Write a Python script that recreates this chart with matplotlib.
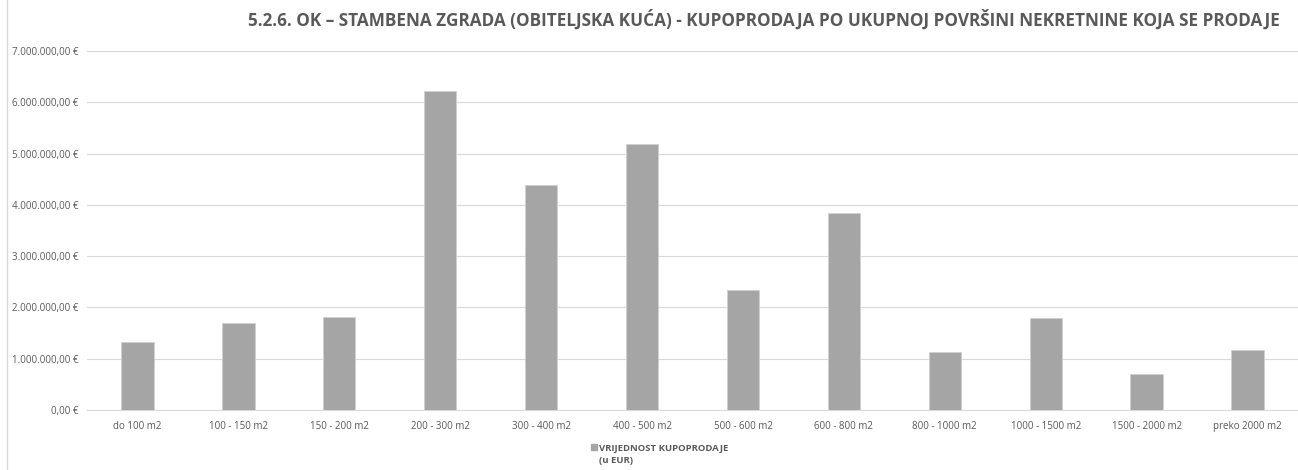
import matplotlib
matplotlib.use("Agg")
import matplotlib.pyplot as plt
from matplotlib.ticker import FuncFormatter
from matplotlib.patches import Rectangle

plt.rcParams['font.family'] = ['Open Sans', 'DejaVu Sans']

categories = ["do 100 m2", "100 - 150 m2", "150 - 200 m2", "200 - 300 m2", "300 - 400 m2",
              "400 - 500 m2", "500 - 600 m2", "600 - 800 m2", "800 - 1000 m2", "1000 - 1500 m2",
              "1500 - 2000 m2", "preko 2000 m2"]
values = [1330000, 1700000, 1810000, 6220000, 4390000, 5190000,
          2340000, 3840000, 1130000, 1790000, 700000, 1170000]
title = "5.2.6. OK \u2013 STAMBENA ZGRADA (OBITELJSKA KU\u0106A) - KUPOPRODAJA PO UKUPNOJ POVR\u0160INI NEKRETNINE KOJA SE PRODAJE"
series_name = "VRIJEDNOST KUPOPRODAJE\n(u EUR)"

bar_color = "#a5a5a5"
text_color = "#595959"
grid_color = "#d9d9d9"


def eur(v, pos):
    s = "{:,.2f}".format(v)
    s = s.replace(",", "X").replace(".", ",").replace("X", ".")
    return s + " \u20ac"


fig = plt.figure(figsize=(12.98, 4.70), dpi=100)
ax = fig.add_axes([87 / 1298, 60 / 470, 1211 / 1298, 359 / 470])

x = range(len(categories))
ax.bar(x, values, width=0.32, color=bar_color, edgecolor="#d0d0d0", linewidth=0.6, zorder=3)

ax.set_xlim(-0.5, len(categories) - 0.5)
ax.set_ylim(0, 7000000)
ax.set_yticks(range(0, 7000001, 1000000))
ax.yaxis.set_major_formatter(FuncFormatter(eur))
ax.set_xticks(list(x))
ax.set_xticklabels(categories)
ax.tick_params(axis="both", length=0, labelsize=7, labelcolor=text_color)
ax.tick_params(axis="x", pad=8)
ax.tick_params(axis="y", pad=6)
ax.grid(axis="y", color=grid_color, linewidth=0.8, zorder=0)
for side in ["top", "right", "left"]:
    ax.spines[side].set_visible(False)
ax.spines["bottom"].set_color(grid_color)
ax.spines["bottom"].set_linewidth(0.8)

fig.text(764 / 1298, 1 - 20 / 470, title, ha="center", va="center",
         fontsize=12.3, fontweight="bold", color=text_color)

# legend
fig.patches.append(Rectangle((591 / 1298, 1 - 450 / 470), 6 / 1298, 6 / 470,
                             transform=fig.transFigure, color=bar_color))
fig.text(599 / 1298, 1 - 444 / 470, series_name, ha="left", va="top",
         fontsize=6.8, fontweight="bold", color=text_color, linespacing=1.45)

# chart border line on the left
fig.add_artist(plt.Line2D([7 / 1298, 7 / 1298], [0, 1], transform=fig.transFigure,
                          color="#d9d9d9", linewidth=1))

fig.savefig("out.png", dpi=100)
